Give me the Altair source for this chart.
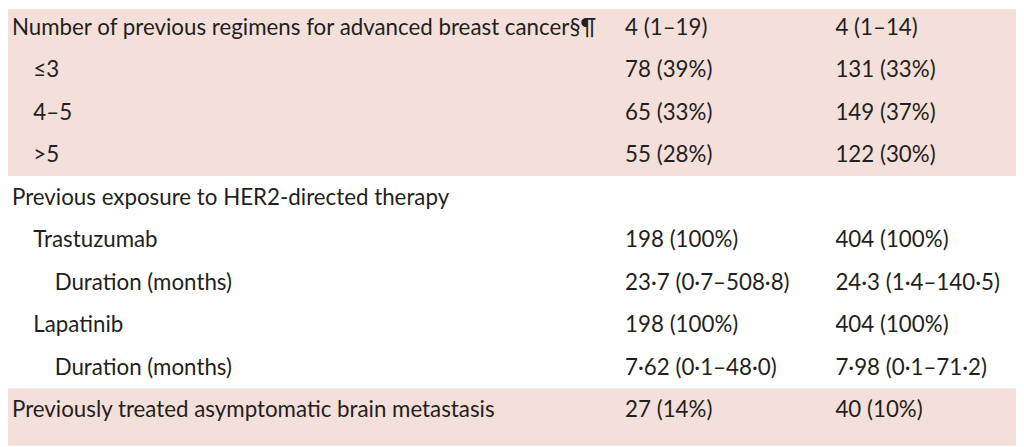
import altair as alt
import pandas as pd

labels = [
    "Number of previous regimens for advanced breast cancer§¶",
    "≤3",
    "4–5",
    ">5",
    "Previous exposure to HER2-directed therapy",
    "Trastuzumab",
    "Duration (months)",
    "Lapatinib",
    "Duration (months)",
    "Previously treated asymptomatic brain metastasis",
]
levels = [0, 1, 1, 1, 0, 1, 2, 1, 2, 0]
group_a = ["4 (1–19)", "78 (39%)", "65 (33%)", "55 (28%)", "",
           "198 (100%)", "23·7 (0·7–508·8)", "198 (100%)", "7·62 (0·1–48·0)", "27 (14%)"]
group_b = ["4 (1–14)", "131 (33%)", "149 (37%)", "122 (30%)", "",
           "404 (100%)", "24·3 (1·4–140·5)", "404 (100%)", "7·98 (0·1–71·2)", "40 (10%)"]
shaded = [True, True, True, True, False, False, False, False, False, True]

n = len(labels)
df = pd.DataFrame({
    "row": list(range(n)),
    "label": labels,
    "level": levels,
    "a": group_a,
    "b": group_b,
    "shaded": shaded,
})
df["row_end"] = df["row"] + 1
df.loc[n - 1, "row_end"] = n + 1
df["mid"] = df["row"] + 0.5

W, H = 1016, 439
PINK = "#f4dfda"
TEXT = "#231f20"
FONT = "Lato"
FS = 22.5

yscale = alt.Scale(domain=[0.07, 10.327], range=[0, H], clamp=True, zero=False, nice=False)
fill_scale = alt.Scale(domain=[True, False], range=[PINK, "#ffffff"])

base = alt.Chart(df)

bg = base.mark_rect(strokeWidth=1).encode(
    x=alt.value(0),
    x2=alt.value(W),
    y=alt.Y("row:Q", scale=yscale, axis=None),
    y2="row_end:Q",
    fill=alt.Fill("shaded:N", scale=fill_scale, legend=None),
    stroke=alt.Stroke("shaded:N", scale=fill_scale, legend=None),
)

lab = base.mark_text(align="left", baseline="middle", font=FONT, fontSize=FS, color=TEXT).encode(
    x=alt.X("level:Q", scale=alt.Scale(domain=[0, 2], range=[4, 47]), axis=None),
    y=alt.Y("mid:Q", scale=yscale, axis=None),
    text="label:N",
)

ca = base.mark_text(align="left", baseline="middle", font=FONT, fontSize=FS, color=TEXT).encode(
    x=alt.value(622),
    y=alt.Y("mid:Q", scale=yscale, axis=None),
    text="a:N",
)

cb = base.mark_text(align="left", baseline="middle", font=FONT, fontSize=FS, color=TEXT).encode(
    x=alt.value(834),
    y=alt.Y("mid:Q", scale=yscale, axis=None),
    text="b:N",
)

chart = alt.layer(bg, lab, ca, cb).properties(
    width=W, height=H, padding=0, autosize=alt.AutoSizeParams(type="none")
).configure_view(stroke=None)

chart.save("out.html", embed_options={"renderer": "svg", "actions": False})
